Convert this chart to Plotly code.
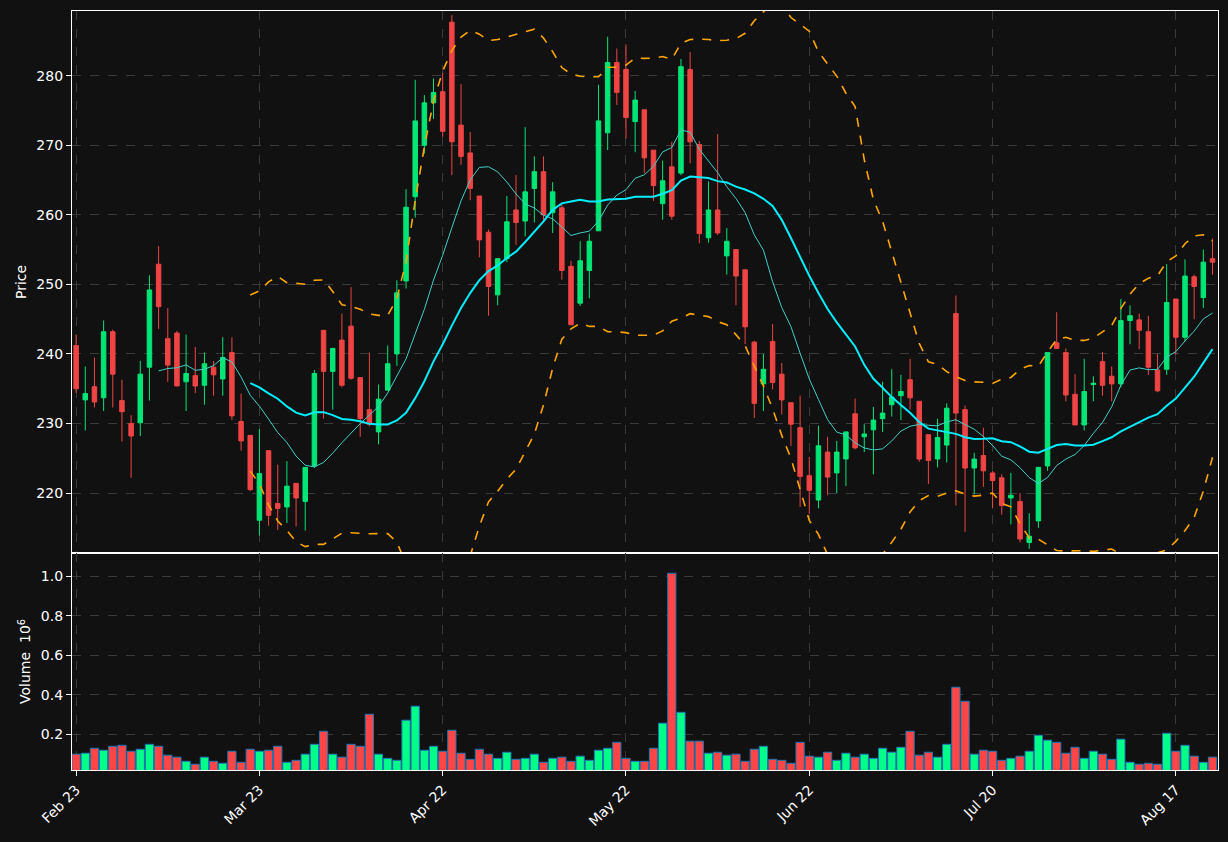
import plotly.graph_objects as go
from plotly.subplots import make_subplots
import pandas as pd

tick_labels = ["Feb 23", "Mar 23", "Apr 22", "May 22", "Jun 22", "Jul 20", "Aug 17"]

opens = [241.2,233.4,235.3,233.7,243.2,233.3,230.0,230.1,238.1,252.9,242.2,243.0,236.0,236.9,235.5,238.1,236.4,240.2,230.3,228.3,
         216.1,226.1,218.5,218.0,221.4,218.8,223.9,243.4,237.5,242.0,244.0,236.6,232.0,228.8,234.8,240.0,250.5,262.6,270.0,276.1,
         277.7,287.7,272.9,268.9,262.7,257.5,248.5,253.7,260.7,259.1,263.8,266.2,260.3,261.0,252.6,247.3,252.0,257.7,271.8,281.9,
         280.9,273.4,275.1,269.3,261.6,266.9,266.0,280.9,270.1,256.7,260.7,254.1,255.0,252.1,241.7,235.7,241.8,237.1,233.0,229.4,
         222.5,219.0,225.9,222.9,224.9,231.4,228.1,229.1,230.7,232.7,234.0,236.3,233.2,228.4,224.9,226.9,245.8,232.0,223.6,225.4,
         222.9,222.2,219.3,218.8,212.9,216.0,223.9,241.6,240.2,234.2,229.8,235.6,238.9,236.8,235.7,244.8,244.9,243.2,237.7,237.8,
         247.9,242.4,251.1,248.1,253.7]
highs = [242.8,238.2,239.5,244.8,243.5,236.3,231.2,239.0,251.3,255.5,246.6,243.3,242.8,241.0,240.2,239.0,242.4,242.4,234.3,228.3,
         229.2,226.1,224.1,224.6,221.4,223.7,237.7,243.4,240.8,245.8,249.6,236.6,240.2,235.6,241.2,250.6,263.7,279.4,277.2,279.6,
         280.4,288.7,278.8,271.9,262.7,257.9,253.7,262.7,265.7,272.6,268.4,268.4,264.7,261.5,253.4,256.2,257.3,278.7,285.6,283.9,
         284.5,277.8,275.1,269.3,267.8,270.5,282.4,283.4,270.6,264.8,271.6,258.1,255.0,252.1,241.9,240.0,244.3,238.7,233.0,234.0,
         225.2,229.7,228.1,227.5,228.8,233.6,229.9,232.4,236.0,237.8,237.0,239.3,233.2,228.4,230.7,232.9,248.4,232.6,225.8,229.4,
         223.2,222.7,222.9,220.0,217.1,223.7,240.2,246.0,240.8,237.1,239.3,236.8,240.3,238.2,247.9,247.0,245.8,245.5,240.0,252.9,
         247.9,253.6,251.4,255.0,256.6]
lows = [234.4,229.0,232.3,231.8,232.3,227.4,222.2,228.2,233.3,243.6,236.0,235.4,231.8,234.4,232.7,234.0,234.0,230.5,226.1,220.3,
        213.9,215.3,214.7,215.7,215.2,214.6,223.6,230.7,232.0,235.2,236.3,228.1,229.6,227.0,234.8,238.3,249.4,259.6,268.8,273.8,
        271.2,265.7,267.2,262.1,253.9,245.5,247.0,253.2,255.7,256.9,258.9,258.9,257.4,250.7,244.2,246.9,248.0,257.7,269.3,275.8,
        271.0,269.0,266.0,262.0,259.3,259.3,265.7,267.4,255.9,256.0,257.1,251.4,247.0,241.4,230.8,231.8,234.9,231.3,226.8,218.0,
        217.0,217.8,219.7,220.0,221.0,226.3,225.9,222.7,228.8,231.0,230.5,232.0,224.5,221.3,223.7,224.4,218.2,214.4,219.8,220.9,
        217.8,216.9,215.5,212.9,212.0,215.0,223.2,240.7,233.2,229.8,229.0,233.2,234.0,233.2,235.2,241.4,240.7,237.0,234.5,237.0,
        239.9,241.8,245.0,246.6,251.4]
closes = [235.0,234.3,233.1,243.2,237.1,231.7,228.2,237.1,249.2,246.8,238.4,235.4,237.2,235.4,238.6,237.0,239.5,231.1,227.5,220.5,
          222.8,216.8,217.8,221.0,219.3,223.7,237.2,237.5,240.8,235.5,236.5,230.7,229.9,233.5,238.6,248.8,261.1,273.5,276.1,277.6,
          272.0,270.5,268.4,263.8,256.4,249.7,253.7,259.0,258.9,263.3,266.2,260.0,263.3,252.0,244.2,253.4,256.2,273.5,281.9,277.6,
          274.0,276.5,268.2,264.2,264.9,259.8,281.3,270.5,257.3,260.7,257.4,256.2,251.2,243.9,232.9,237.8,235.9,233.4,229.9,222.4,
          220.4,226.8,222.3,225.9,228.8,226.5,228.5,230.5,231.5,233.8,234.6,233.7,224.9,224.7,228.0,232.2,231.5,223.6,224.9,223.2,
          221.8,218.2,219.7,213.4,213.8,223.7,240.2,240.8,234.1,229.8,234.6,235.8,235.5,235.7,244.8,245.5,243.4,238.1,234.7,247.4,
          242.4,251.2,249.7,253.2,253.2]
volumes = [0.099,0.104,0.129,0.119,0.139,0.144,0.114,0.124,0.149,0.139,0.094,0.084,0.063,0.048,0.084,0.063,0.053,0.114,0.058,0.124,
           0.114,0.119,0.139,0.058,0.068,0.099,0.149,0.215,0.099,0.084,0.149,0.139,0.301,0.099,0.078,0.068,0.271,0.342,0.119,0.139,
           0.114,0.220,0.104,0.073,0.124,0.099,0.078,0.109,0.073,0.078,0.099,0.058,0.078,0.084,0.063,0.089,0.068,0.119,0.129,0.159,
           0.078,0.063,0.063,0.129,0.256,1.015,0.311,0.165,0.165,0.104,0.109,0.094,0.099,0.063,0.124,0.139,0.073,0.068,0.053,0.159,
           0.089,0.084,0.109,0.068,0.104,0.084,0.099,0.078,0.129,0.109,0.134,0.215,0.094,0.109,0.084,0.149,0.438,0.367,0.099,0.119,
           0.114,0.068,0.078,0.089,0.114,0.195,0.170,0.159,0.104,0.134,0.078,0.114,0.099,0.073,0.175,0.058,0.048,0.053,0.048,0.205,
           0.114,0.144,0.089,0.058,0.084]

n = len(closes)
x = list(range(n))
c = pd.Series(closes)
ma10 = c.rolling(10).mean()
ma20 = c.rolling(20).mean()
sd20 = c.rolling(20).std(ddof=0)
upper = ma20 + 2 * sd20
lower = ma20 - 2 * sd20

UP, DN = "#00e676", "#ef4444"
vcol = ["#00ff88" if cl >= op else "#ff4545" for op, cl in zip(opens, closes)]

fig = make_subplots(rows=2, cols=1, shared_xaxes=True, vertical_spacing=0,
                    row_heights=[0.714, 0.286])
fig.add_trace(go.Candlestick(x=x, open=opens, high=highs, low=lows, close=closes,
                             increasing=dict(line=dict(color=UP, width=1), fillcolor=UP),
                             decreasing=dict(line=dict(color=DN, width=1), fillcolor=DN),
                             whiskerwidth=0, showlegend=False), row=1, col=1)
fig.add_trace(go.Scatter(x=x, y=ma10, mode="lines", line=dict(color="#40d0c8", width=1),
                         showlegend=False), row=1, col=1)
fig.add_trace(go.Scatter(x=x, y=ma20, mode="lines", line=dict(color="#00eeff", width=2),
                         showlegend=False), row=1, col=1)
for b in (upper, lower):
    fig.add_trace(go.Scatter(x=x, y=b, mode="lines", line=dict(color="#ffa500", width=1.6, dash="dash"),
                             showlegend=False), row=1, col=1)
fig.add_trace(go.Bar(x=x, y=volumes, marker=dict(color=vcol, line=dict(color="#1f77b4", width=1)),
                     width=0.9, showlegend=False), row=2, col=1)

axstyle = dict(showline=True, linecolor="white", linewidth=1.2, mirror=True,
               gridcolor="#3a3a3a", griddash="dash", gridwidth=1, zeroline=False,
               tickfont=dict(color="white", size=14), ticks="outside", tickcolor="white")
fig.update_xaxes(**axstyle, range=[-0.45, 124.6], rangeslider_visible=False,
                 tickvals=[0, 20, 40, 60, 80, 100, 120], ticktext=tick_labels)
fig.update_xaxes(showticklabels=False, row=1, col=1)
fig.update_xaxes(tickangle=-45, row=2, col=1)
fig.update_yaxes(**axstyle)
fig.update_yaxes(range=[211.4, 289.3], tickvals=[220, 230, 240, 250, 260, 270, 280],
                 title=dict(text="Price", font=dict(color="white", size=14), standoff=6), row=1, col=1)
fig.update_yaxes(range=[0.019, 1.118], tickvals=[0.2, 0.4, 0.6, 0.8, 1.0], tickformat=".1f",
                 title=dict(text="Volume  10<sup>6</sup>", font=dict(color="white", size=14), standoff=6), row=2, col=1)

fig.update_layout(width=1228, height=842, paper_bgcolor="#111111", plot_bgcolor="#111111",
                  margin=dict(l=72, r=10, t=11, b=72), bargap=0.1,
                  font=dict(family="DejaVu Sans", color="white"))
fig.write_html("out.html", config={"displayModeBar": False},
               post_script="document.body.style.margin='0';document.body.style.background='#111111';")
